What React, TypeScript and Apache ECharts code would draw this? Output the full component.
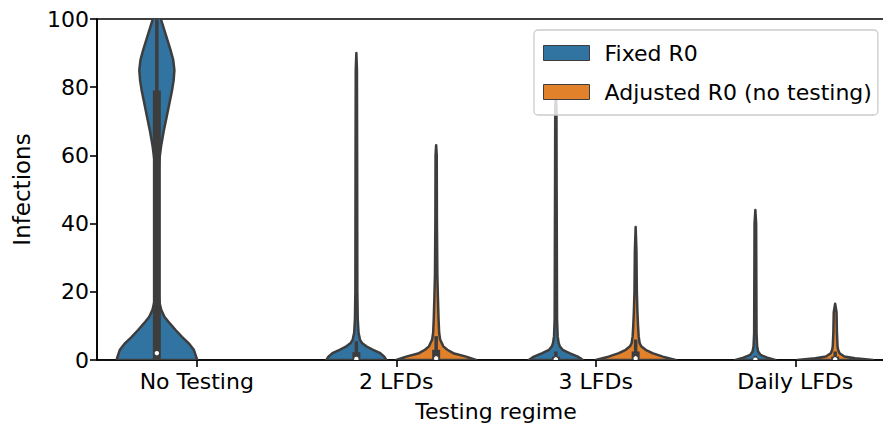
import React, { useEffect, useRef } from "react";
import * as echarts from "echarts";

// ---- data ----
const categories = ["No Testing", "2 LFDs", "3 LFDs", "Daily LFDs"];
const hues = ["Fixed R0", "Adjusted R0 (no testing)"];
const hueColors = ["#3274a1", "#e1812c"];
const yTicks = { min: 0, max: 100, interval: 20 };

// violin profiles: [infections, relative density width (1 = widest)]
const fixedNoTesting: number[][] = [
  [0, 1.0], [0.5, 1.0], [2.9, 0.93], [4.9, 0.8], [6.8, 0.63], [8.8, 0.47], [10.8, 0.32],
  [12.7, 0.19], [14.7, 0.11], [16.6, 0.07], [19, 0.045], [24, 0.03], [32, 0.022],
  [45, 0.022], [54, 0.035], [59, 0.065], [63, 0.11], [67, 0.17], [71, 0.24], [75, 0.31],
  [79, 0.38], [82, 0.42], [85, 0.44], [88, 0.41], [91, 0.34], [94, 0.26], [97, 0.18],
  [100, 0.1], [102, 0.03], [103, 0],
];
const fixed2LFDs: number[][] = [
  [0, 0.75], [1, 0.7], [2, 0.6], [3, 0.42], [4, 0.25], [5, 0.14], [6, 0.09], [8, 0.055],
  [12, 0.035], [20, 0.025], [60, 0.02], [85, 0.015], [90, 0],
];
const fixed3LFDs: number[][] = [
  [0, 0.68], [1, 0.55], [2, 0.34], [3, 0.17], [4, 0.1], [5, 0.07], [7, 0.045],
  [12, 0.03], [50, 0.02], [74, 0.015], [78, 0],
];
const fixedDaily: number[][] = [
  [0, 0.5], [0.7, 0.3], [1.5, 0.13], [2.5, 0.07], [4, 0.045], [8, 0.03], [40, 0.02],
  [44, 0],
];
const adjusted2LFDs: number[][] = [
  [0, 1.0], [1, 0.75], [2, 0.43], [3, 0.28], [4, 0.18], [6, 0.1], [8, 0.075],
  [12, 0.06], [18, 0.045], [25, 0.03], [40, 0.02], [60, 0.015], [63, 0],
];
const adjusted3LFDs: number[][] = [
  [0, 1.0], [1, 0.68], [2, 0.42], [3, 0.25], [4, 0.14], [5, 0.1], [7, 0.075],
  [10, 0.06], [14, 0.045], [20, 0.03], [32, 0.02], [39, 0],
];
const adjustedDaily: number[][] = [
  [0, 0.95], [0.5, 0.5], [1, 0.23], [2, 0.11], [3, 0.075], [4, 0.06], [8, 0.045],
  [14, 0.035], [16.5, 0],
];

// inner boxes: [whiskerLow, q1, median, q3, whiskerHigh]
const fixedBoxes: number[][] = [
  [0, 0, 2, 79, 100], [0, 0, 0.3, 2.3, 5.5], [0, 0, 0.2, 1, 2.5], [0, 0, 0.1, 0.5, 1.2],
];
const adjustedBoxes: (number[] | null)[] = [
  null, [0, 0, 0.5, 3, 7], [0, 0, 0.5, 2.5, 6], [0, 0, 0.2, 1, 2.5],
];

const fixedProfiles = [fixedNoTesting, fixed2LFDs, fixed3LFDs, fixedDaily];
const adjustedProfiles: (number[][] | null)[] = [null, adjusted2LFDs, adjusted3LFDs, adjustedDaily];

const profiles = [fixedProfiles, adjustedProfiles];
const boxes = [fixedBoxes, adjustedBoxes];

const EDGE = "#3d3d3d";
const FONT = "DejaVu Sans";
const FS = 22;

function makeRenderItem(hueIdx: number) {
  return (params: any, api: any) => {
    const cat = api.value(0);
    const prof = (profiles[hueIdx] as any)[cat] as number[][] | null;
    const box = (boxes[hueIdx] as any)[cat] as number[] | null;
    if (!prof) return null;
    const band = api.size([1, 0])[0];
    const center = api.coord([cat, 0])[0] + (hueIdx === 0 ? -0.2 : 0.2) * band;
    const maxHalf = 0.2 * band;
    const left = prof.map(([v, w]) => [center - w * maxHalf, api.coord([cat, v])[1]]);
    const right = prof
      .slice()
      .reverse()
      .map(([v, w]) => [center + w * maxHalf, api.coord([cat, v])[1]]);
    const children: any[] = [
      {
        type: "polygon",
        shape: { points: left.concat(right) },
        style: { fill: hueColors[hueIdx], stroke: EDGE, lineWidth: 2.5, lineJoin: "round" },
      },
    ];
    if (box) {
      const [lo, q1, med, q3, hi] = box;
      const yLo = api.coord([cat, lo])[1];
      const yHi = api.coord([cat, hi])[1];
      const yQ1 = api.coord([cat, q1])[1];
      const yQ3 = api.coord([cat, q3])[1];
      const yMed = api.coord([cat, med])[1];
      children.push({
        type: "line",
        shape: { x1: center, y1: yLo, x2: center, y2: yHi },
        style: { stroke: EDGE, lineWidth: 3.5 },
      });
      children.push({
        type: "rect",
        shape: { x: center - 4, y: yQ3, width: 8, height: Math.max(yQ1 - yQ3, 0.5) },
        style: { fill: EDGE },
      });
      children.push({
        type: "circle",
        shape: { cx: center, cy: yMed, r: 2.2 },
        style: { fill: "#ffffff" },
      });
    }
    return { type: "group", children };
  };
}

export default function App() {
  const ref = useRef<HTMLDivElement>(null);
  useEffect(() => {
    if (!ref.current) return;
    const chart = echarts.init(ref.current, undefined, { renderer: "svg" });
    const seriesData = hues.map((_, h) =>
      categories
        .map((_, i) => i)
        .filter((i) => (profiles[h] as any)[i])
        .map((i) => [i, 0])
    );
    chart.setOption({
      animation: false,
      backgroundColor: "#ffffff",
      textStyle: { fontFamily: FONT },
      grid: {
        left: 97,
        top: 19,
        width: 798,
        height: 341,
        show: true,
        borderColor: "#000000",
        borderWidth: 1.6,
        backgroundColor: "transparent",
      },
      legend: {
        data: hues,
        orient: "vertical",
        left: 534,
        top: 30,
        icon: "rect",
        itemWidth: 46,
        itemHeight: 15,
        itemGap: 17,
        padding: [12, 6, 12, 9],
        backgroundColor: "rgba(255,255,255,0.8)",
        borderColor: "#cccccc",
        borderWidth: 1.3,
        borderRadius: 4,
        itemStyle: { borderColor: EDGE, borderWidth: 1 },
        textStyle: { fontSize: FS, color: "#000", fontFamily: FONT, padding: [0, 0, 0, 10] },
      },
      xAxis: {
        type: "category",
        data: categories,
        boundaryGap: true,
        name: "Testing regime",
        nameLocation: "middle",
        nameGap: 40,
        nameTextStyle: { fontSize: FS, color: "#000", fontFamily: FONT },
        axisLine: { show: true, lineStyle: { color: "#000", width: 1.6 } },
        axisTick: { show: true, alignWithLabel: true, length: 7, lineStyle: { color: "#000", width: 1.6 } },
        axisLabel: { fontSize: FS, color: "#000", fontFamily: FONT, margin: 10 },
        splitLine: { show: false },
      },
      yAxis: {
        type: "value",
        min: yTicks.min,
        max: yTicks.max,
        interval: yTicks.interval,
        name: "Infections",
        nameLocation: "middle",
        nameGap: 64,
        nameTextStyle: { fontSize: 23, color: "#000", fontFamily: FONT },
        axisLine: { show: true, lineStyle: { color: "#000", width: 1.6 } },
        axisTick: { show: true, length: 7, lineStyle: { color: "#000", width: 1.6 } },
        axisLabel: { fontSize: FS, color: "#000", fontFamily: FONT, margin: 8 },
        splitLine: { show: false },
      },
      series: hues.map((name, h) => ({
        type: "custom",
        name,
        clip: true,
        itemStyle: { color: hueColors[h] },
        encode: { x: 0, y: 1 },
        data: seriesData[h],
        renderItem: makeRenderItem(h),
      })),
    });
    return () => chart.dispose();
  }, []);
  return (
    <div
      style={{
        position: "absolute",
        left: 0,
        top: 0,
        width: 883,
        height: 427,
        overflow: "hidden",
      }}
    >
      <div ref={ref} style={{ width: 910, height: 427 }} />
    </div>
  );
}
